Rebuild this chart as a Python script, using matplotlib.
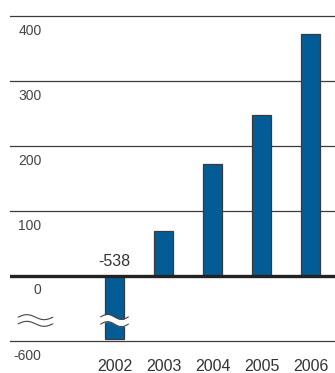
import numpy as np
import matplotlib
matplotlib.use("Agg")
import matplotlib.pyplot as plt
import matplotlib.transforms as mtransforms

plt.rcParams["font.family"] = ["Liberation Sans", "DejaVu Sans"]

years = ["2002", "2003", "2004", "2005", "2006"]
values = [-538, 68, 172, 247, 372]
grid_values = [400, 300, 200, 100, -600]
grid_labels = ["400", "300", "200", "100", "-600"]

BAR_COLOR = "#045c97"
EDGE_COLOR = "#3a3a3a"
TEXT_COLOR = "#444444"


# broken axis below zero: the negative range is squeezed into one band
def squash(v):
    v = np.asarray(v, dtype=float)
    return np.where(v < 0, -100 * np.abs(v / 600.0) ** 0.18, v)


def unsquash(v):
    v = np.asarray(v, dtype=float)
    return np.where(v < 0, -600 * (np.abs(v) / 100.0) ** (1 / 0.18), v)


def tilde(ax, fig, base, x0, y0, half_w, amp, gap, color, lw, fill=False):
    """Draw a double wavy break mark (two tildes) around (x0, y0) given in 'base' coords."""
    trans = fig.dpi_scale_trans + mtransforms.ScaledTranslation(x0, y0, base)
    t = np.linspace(-1, 1, 60)
    xs = t * half_w / 72
    ys = -amp * np.sin(np.pi * t) / 72
    if fill:
        ax.fill_between(xs, ys - gap / 72, ys + gap / 72, color="white",
                        transform=trans, zorder=5, clip_on=False, lw=0)
    for off in (-gap, gap):
        ax.plot(xs, ys + off / 72, color=color, lw=lw, transform=trans,
                zorder=6, clip_on=False, solid_capstyle="round")


fig = plt.figure(figsize=(3.35, 3.73), dpi=100)
fig.patch.set_facecolor("white")
ax = fig.add_axes([10 / 335, 32.5 / 373, 325 / 335, 340.5 / 373])
ax.set_yscale("function", functions=(squash, unsquash))

x = np.arange(len(years))
ax.bar(x, values, width=0.4, color=BAR_COLOR, edgecolor=EDGE_COLOR,
       linewidth=0.9, zorder=3)

for val, lbl in zip(grid_values, grid_labels):
    ax.axhline(val, color="#3c3c3c", lw=0.9, zorder=1, clip_on=False)
    ax.annotate(lbl, xy=(0.097, val), xycoords=ax.get_yaxis_transform(),
                xytext=(0, -11.2), textcoords="offset points",
                ha="right", va="center", fontsize=10, color=TEXT_COLOR)

# zero line
ax.axhline(0, color="#222222", lw=2.4, zorder=4)
ax.annotate("0", xy=(0.097, 0), xycoords=ax.get_yaxis_transform(),
            xytext=(0, -10.5), textcoords="offset points",
            ha="right", va="center", fontsize=10, color=TEXT_COLOR)

# value of the negative bar
ax.annotate(f"{values[0]:.0f}", xy=(x[0], 0), xytext=(0, 4.5),
            textcoords="offset points", ha="center", va="bottom",
            fontsize=11.5, color="#333333")

ax.set_xlim(-2.133, 4.5)
ax.set_ylim(-600, 424)
ax.set_xticks(x)
ax.set_xticklabels(years, fontsize=11.5, color="#333333")
ax.tick_params(axis="x", length=0, pad=13.5)
ax.set_yticks([])
for s in ax.spines.values():
    s.set_visible(False)

# break marks: on the axis and across the 2002 bar
tilde(ax, fig, ax.transAxes, 25.5 / 325, 20 / 340.5, 12.5, 1.8, 2.4,
      "#444444", 0.8)
tilde(ax, fig, ax.get_xaxis_transform(), x[0], 20 / 340.5, 10, 1.8, 2.6,
      "#444444", 0.8, fill=True)

fig.savefig("out.png", dpi=100, facecolor="white")
